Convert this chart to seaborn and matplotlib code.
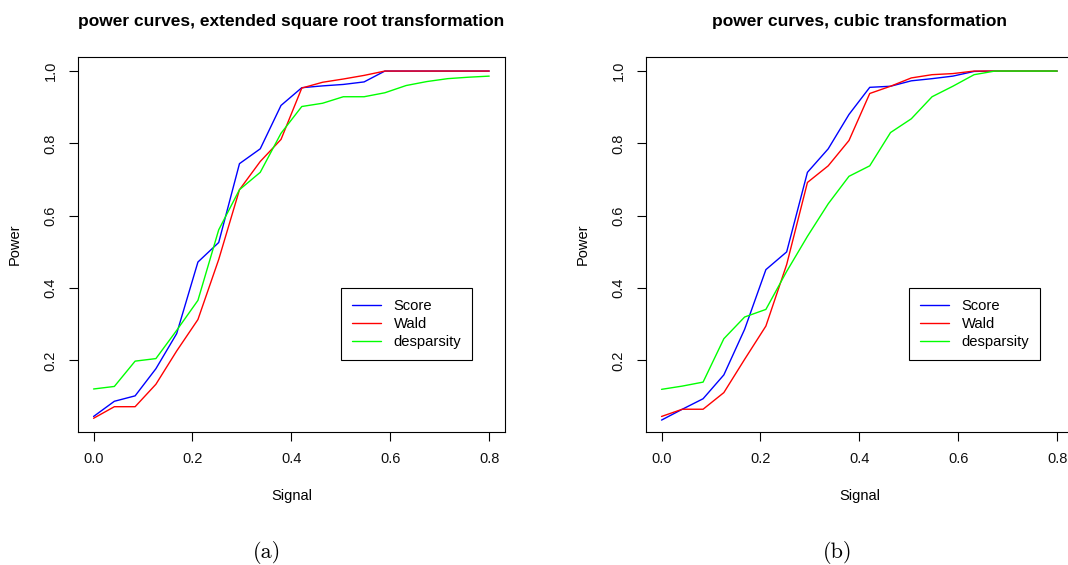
import matplotlib
matplotlib.use("Agg")
import matplotlib.pyplot as plt

import seaborn as sns
import pandas as pd

sns.set_theme(style="white")
plt.rcParams["font.family"] = ["Liberation Sans", "DejaVu Sans"]
plt.rcParams["text.color"] = "black"
plt.rcParams["axes.labelcolor"] = "black"

# signal grid (20 evenly spaced points between 0 and 0.8)
signal = [0.000, 0.042, 0.084, 0.126, 0.168, 0.211, 0.253, 0.295, 0.337, 0.379,
          0.421, 0.463, 0.505, 0.547, 0.589, 0.632, 0.674, 0.716, 0.758, 0.800]

methods = ["Score", "Wald", "desparsity"]
colors = {"Score": "#0000FF", "Wald": "#FF0000", "desparsity": "#00FF00"}

# (a) extended square root transformation
sqrt_score = [0.045, 0.087, 0.102, 0.177, 0.274, 0.472, 0.526, 0.744, 0.785, 0.905,
              0.954, 0.959, 0.963, 0.970, 1.000, 1.000, 1.000, 1.000, 1.000, 1.000]
sqrt_wald = [0.040, 0.072, 0.072, 0.134, 0.226, 0.313, 0.479, 0.672, 0.750, 0.811,
             0.953, 0.969, 0.978, 0.988, 1.000, 1.000, 1.000, 1.000, 1.000, 1.000]
sqrt_desp = [0.121, 0.128, 0.198, 0.205, 0.283, 0.366, 0.561, 0.672, 0.720, 0.828,
             0.902, 0.911, 0.929, 0.929, 0.940, 0.960, 0.971, 0.979, 0.983, 0.986]

# (b) cubic transformation
cubic_score = [0.035, 0.065, 0.094, 0.160, 0.286, 0.451, 0.500, 0.720, 0.785, 0.880,
               0.955, 0.958, 0.973, 0.979, 0.986, 0.999, 1.000, 1.000, 1.000, 1.000]
cubic_wald = [0.045, 0.065, 0.065, 0.111, 0.203, 0.295, 0.465, 0.692, 0.738, 0.808,
              0.938, 0.958, 0.981, 0.990, 0.993, 1.000, 1.000, 1.000, 1.000, 1.000]
cubic_desp = [0.120, 0.129, 0.140, 0.260, 0.320, 0.341, 0.446, 0.543, 0.633, 0.709,
              0.738, 0.830, 0.868, 0.929, 0.958, 0.990, 1.000, 1.000, 1.000, 1.000]

panels = [
    ("power curves, extended square root transformation", "(a)",
     [sqrt_score, sqrt_wald, sqrt_desp]),
    ("power curves, cubic transformation", "(b)",
     [cubic_score, cubic_wald, cubic_desp]),
]


def long_frame(series):
    frames = []
    for name, vals in zip(methods, series):
        frames.append(pd.DataFrame({"Signal": signal, "Power": vals, "method": name}))
    return pd.concat(frames, ignore_index=True)


fig = plt.figure(figsize=(10.68, 5.65), dpi=100)
positions = [[0.0728, 0.2360, 0.4001, 0.6632], [0.6046, 0.2360, 0.4001, 0.6632]]
caption_x = [0.250, 0.784]

for (title, tag, series), pos, cx in zip(panels, positions, caption_x):
    ax = fig.add_axes(pos)
    df = long_frame(series)
    sns.lineplot(data=df, x="Signal", y="Power", hue="method", palette=colors,
                 hue_order=methods, linewidth=1.0, legend=False, ax=ax)

    ax.set_xlim(-0.032, 0.832)
    ax.set_ylim(0.003, 1.039)
    ax.set_xticks([0.0, 0.2, 0.4, 0.6, 0.8])
    ax.set_xticklabels(["0.0", "0.2", "0.4", "0.6", "0.8"])
    ax.set_yticks([0.2, 0.4, 0.6, 0.8, 1.0])
    ax.set_yticklabels(["0.2", "0.4", "0.6", "0.8", "1.0"], rotation=90, va="center")
    ax.tick_params(axis="both", direction="out", length=6.5, width=0.8,
                   color="black", labelsize=10.5, labelcolor="#111111",
                   bottom=True, left=True)
    ax.tick_params(axis="x", pad=8.5)
    ax.tick_params(axis="y", pad=8)
    for sp in ax.spines.values():
        sp.set_color("black")
        sp.set_linewidth(0.8)

    ax.set_xlabel("Signal", fontsize=10.5)
    ax.xaxis.label.set_va("center")
    ax.xaxis.set_label_coords(0.5, -0.171)
    ax.set_ylabel("Power", fontsize=10.5)
    ax.yaxis.label.set_va("center")
    ax.yaxis.set_label_coords(-0.147, 0.5)

    ax.set_title(title, fontsize=12.5, fontweight="bold", pad=22, color="black")

    handles = ax.get_lines()[:3]
    leg = ax.legend(handles, methods, loc="upper left",
                    bbox_to_anchor=(0.6155, 0.384), fontsize=10.6,
                    frameon=True, fancybox=False, framealpha=1,
                    edgecolor="black", borderpad=0.75, labelspacing=0.27,
                    handlelength=2.0, handletextpad=0.85, borderaxespad=0)
    leg.get_frame().set_linewidth(0.8)

    fig.text(cx, 0.023, tag, family="cmr10", fontsize=16, ha="center", va="center")

fig.savefig("out.png", dpi=100)
